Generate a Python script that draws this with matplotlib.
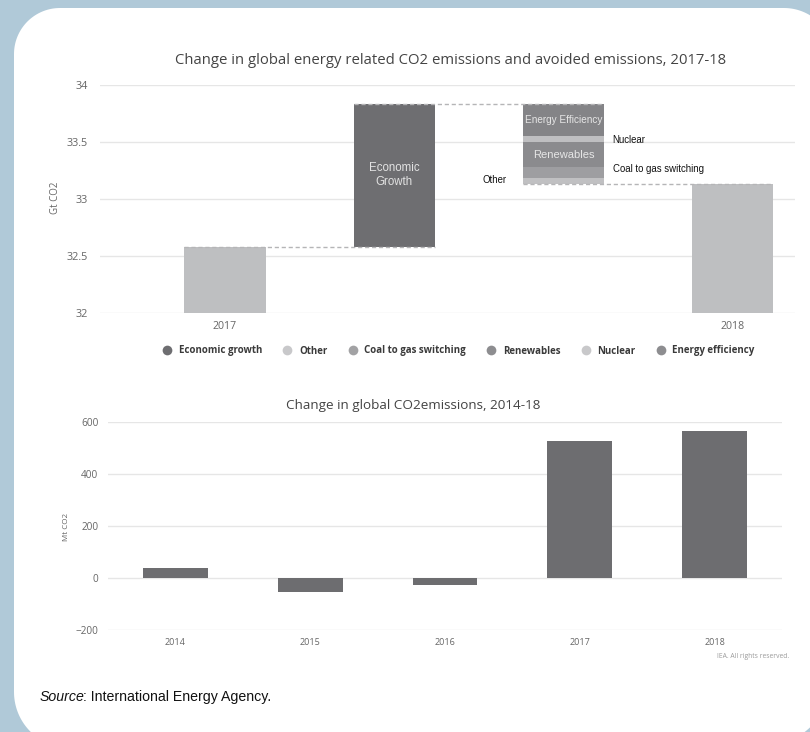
import numpy as np
import matplotlib
matplotlib.use("Agg")
import matplotlib.pyplot as plt
from matplotlib.patches import Polygon
from matplotlib.lines import Line2D
from matplotlib.transforms import IdentityTransform

# --- data -------------------------------------------------------------
start_year = "2017"
end_year = "2018"
emissions_2017 = 32.58          # Gt CO2
economic_growth = 1.25          # Gt CO2 added
avoided_names = ["Energy Efficiency", "Nuclear", "Renewables",
                 "Coal to gas switching", "Other"]
avoided_values = [0.28, 0.05, 0.22, 0.10, 0.05]   # Gt CO2 avoided, top to bottom

years = ["2014", "2015", "2016", "2017", "2018"]
annual_change = [37, -54, -27, 527, 565]           # Mt CO2

legend_names = ["Economic growth", "Other", "Coal to gas switching",
                "Renewables", "Nuclear", "Energy efficiency"]

# --- styling ----------------------------------------------------------
W, H = 810, 732
BG = "#b0c9d8"
GRID = "#e6e6e6"
TICK = "#666666"
seg_colors = {
    "Economic growth": "#6e6e71",
    "Energy Efficiency": "#848487",
    "Nuclear": "#bfbfc1",
    "Renewables": "#8b8b8e",
    "Coal to gas switching": "#9e9ea1",
    "Other": "#c0c0c2",
}
legend_colors = ["#6e6e71", "#c8c8ca", "#a2a2a4", "#8d8d90", "#c8c8ca", "#8d8d90"]
total_color = "#bebfc1"
bar_color = "#6d6d70"
SANS = ["Open Sans", "DejaVu Sans"]
ARIAL = ["Liberation Sans", "DejaVu Sans"]

plt.rcParams["font.family"] = SANS

fig = plt.figure(figsize=(W / 100, H / 100), dpi=100, facecolor=BG)


def px_axes(left, top, right, bottom):
    return fig.add_axes([left / W, (H - bottom) / H, (right - left) / W, (bottom - top) / H])


def card(L, T, R, B, tl, tr, br, bl):
    # rounded white panel in pixel coordinates (y measured from the top)
    top, bot = H - T, H - B
    pts = []

    def arc(cx, cy, r, a0, a1):
        for a in np.linspace(np.radians(a0), np.radians(a1), 40):
            pts.append((cx + r * np.cos(a), cy + r * np.sin(a)))

    arc(R - tr, top - tr, tr, 0, 90)
    arc(L + tl, top - tl, tl, 90, 180)
    arc(L + bl, bot + bl, bl, 180, 270)
    arc(R - br, bot + br, br, 270, 360)
    p = Polygon(pts, closed=True, facecolor="white", edgecolor="none",
                transform=IdentityTransform(), zorder=-10)
    fig.add_artist(p)


card(14, 8, 834, 748, 46, 50, 76, 56)


def style_axes(ax):
    ax.set_facecolor("none")
    for s in ax.spines.values():
        s.set_visible(False)
    ax.yaxis.grid(True, color=GRID, lw=1)
    ax.set_axisbelow(True)
    ax.tick_params(length=0, colors=TICK, labelsize=7.8)


# --- top: waterfall ---------------------------------------------------
ax1 = px_axes(100, 85, 795, 313)
style_axes(ax1)
bw = 0.48

peak = emissions_2017 + economic_growth
emissions_2018 = peak - sum(avoided_values)

ax1.bar(0, emissions_2017, width=bw, color=total_color, zorder=2)
ax1.bar(1, economic_growth, bottom=emissions_2017, width=bw,
        color=seg_colors["Economic growth"], zorder=2)
tops = peak - np.concatenate([[0], np.cumsum(avoided_values)[:-1]])
for name, val, top in zip(avoided_names, avoided_values, tops):
    ax1.bar(2, val, bottom=top - val, width=bw, color=seg_colors[name], zorder=2)
ax1.bar(3, emissions_2018, width=bw, color=total_color, zorder=2)

# dashed connectors between steps
dash = dict(colors="#b5b5b7", linestyles=(0, (3, 2)), lw=1, zorder=3)
ax1.hlines(emissions_2017, 0 - bw / 2, 1 + bw / 2, **dash)
ax1.hlines(peak, 1 - bw / 2, 2 + bw / 2, **dash)
ax1.hlines(emissions_2018, 2 - bw / 2, 3 + bw / 2, **dash)

ax1.text(1, 33.21, "Economic\nGrowth", ha="center", va="center", color="#e2e2e2",
         fontsize=8.3, family=ARIAL, linespacing=1.15, zorder=4)
mids = tops - np.array(avoided_values) / 2
ax1.text(2, mids[0], "Energy Efficiency", ha="center", va="center",
         color="#e6e6e6", fontsize=7.2, family=ARIAL, zorder=4)
ax1.text(2, mids[2], "Renewables", ha="center", va="center",
         color="#e6e6e6", fontsize=8, family=ARIAL, zorder=4)
ax1.text(2 + bw / 2 + 0.05, mids[1] - 0.01, "Nuclear", ha="left", va="center",
         color="#111111", fontsize=6.9, family=ARIAL)
ax1.text(2 + bw / 2 + 0.05, mids[3] + 0.03, "Coal to gas switching", ha="left", va="center",
         color="#111111", fontsize=6.9, family=ARIAL)
ax1.text(2 - bw / 2 - 0.24, mids[4] + 0.01, "Other", ha="left", va="center",
         color="#111111", fontsize=6.9, family=ARIAL)

ax1.set_xlim(-0.738, 3.367)
ax1.set_ylim(32, 34)
ax1.set_yticks([32, 32.5, 33, 33.5, 34])
ax1.set_yticklabels(["32", "32.5", "33", "33.5", "34"])
ax1.set_xticks([0, 3])
ax1.set_xticklabels([start_year, end_year], fontsize=7.7)
ax1.tick_params(axis="y", pad=9)
ax1.tick_params(axis="x", pad=6)

fig.text(451 / W, (H - 60) / H,
         "Change in global energy related CO2 emissions and avoided emissions, 2017-18",
         ha="center", va="center", fontsize=10.7, color="#444444")
fig.text(56 / W, (H - 198) / H, "Gt CO2", rotation=90, ha="center", va="center",
         fontsize=7, color=TICK)

handles = [Line2D([], [], marker="o", ls="none", markersize=7, color=c,
                  markeredgecolor="none") for c in legend_colors]
fig.legend(handles, legend_names, loc="center", ncol=6, frameon=False,
           bbox_to_anchor=(456 / W, (H - 351) / H), handletextpad=0.2,
           columnspacing=1.6, prop=dict(family=SANS, size=7, weight="bold"),
           labelcolor="#3a3a3a")

# --- bottom: annual change ---------------------------------------------
ax2 = px_axes(108, 422, 782, 630)
style_axes(ax2)
ax2.bar(range(len(years)), annual_change, width=0.48, color=bar_color, zorder=2)
ax2.set_xlim(-0.5, 4.5)
ax2.set_ylim(-200, 600)
ax2.set_yticks([-200, 0, 200, 400, 600])
ax2.set_xticks(range(len(years)))
ax2.set_xticklabels(years, fontsize=6.5)
ax2.tick_params(axis="y", labelsize=7.2, pad=7)
ax2.tick_params(axis="x", pad=6)

fig.text(413 / W, (H - 405) / H, "Change in global CO2emissions, 2014-18",
         ha="center", va="center", fontsize=9.7, color="#444444")
fig.text(67 / W, (H - 527) / H, "Mt CO2", rotation=90, ha="center", va="center",
         fontsize=5.8, color=TICK)
fig.text(789 / W, (H - 657) / H, "IEA. All rights reserved.", ha="right", va="center",
         fontsize=4.9, color="#9a9a9a")

src = fig.text(40 / W, (H - 697) / H, "Source", ha="left", va="center",
               fontsize=10.2, style="italic", family=ARIAL, color="#111111")
ax2.annotate(": International Energy Agency.", xy=(1, 0.5), xycoords=src,
             xytext=(-1, 0), textcoords="offset points",
             ha="left", va="center", fontsize=10.2, family=ARIAL, color="#111111",
             annotation_clip=False)

fig.savefig("out.png", dpi=100, facecolor=BG)
